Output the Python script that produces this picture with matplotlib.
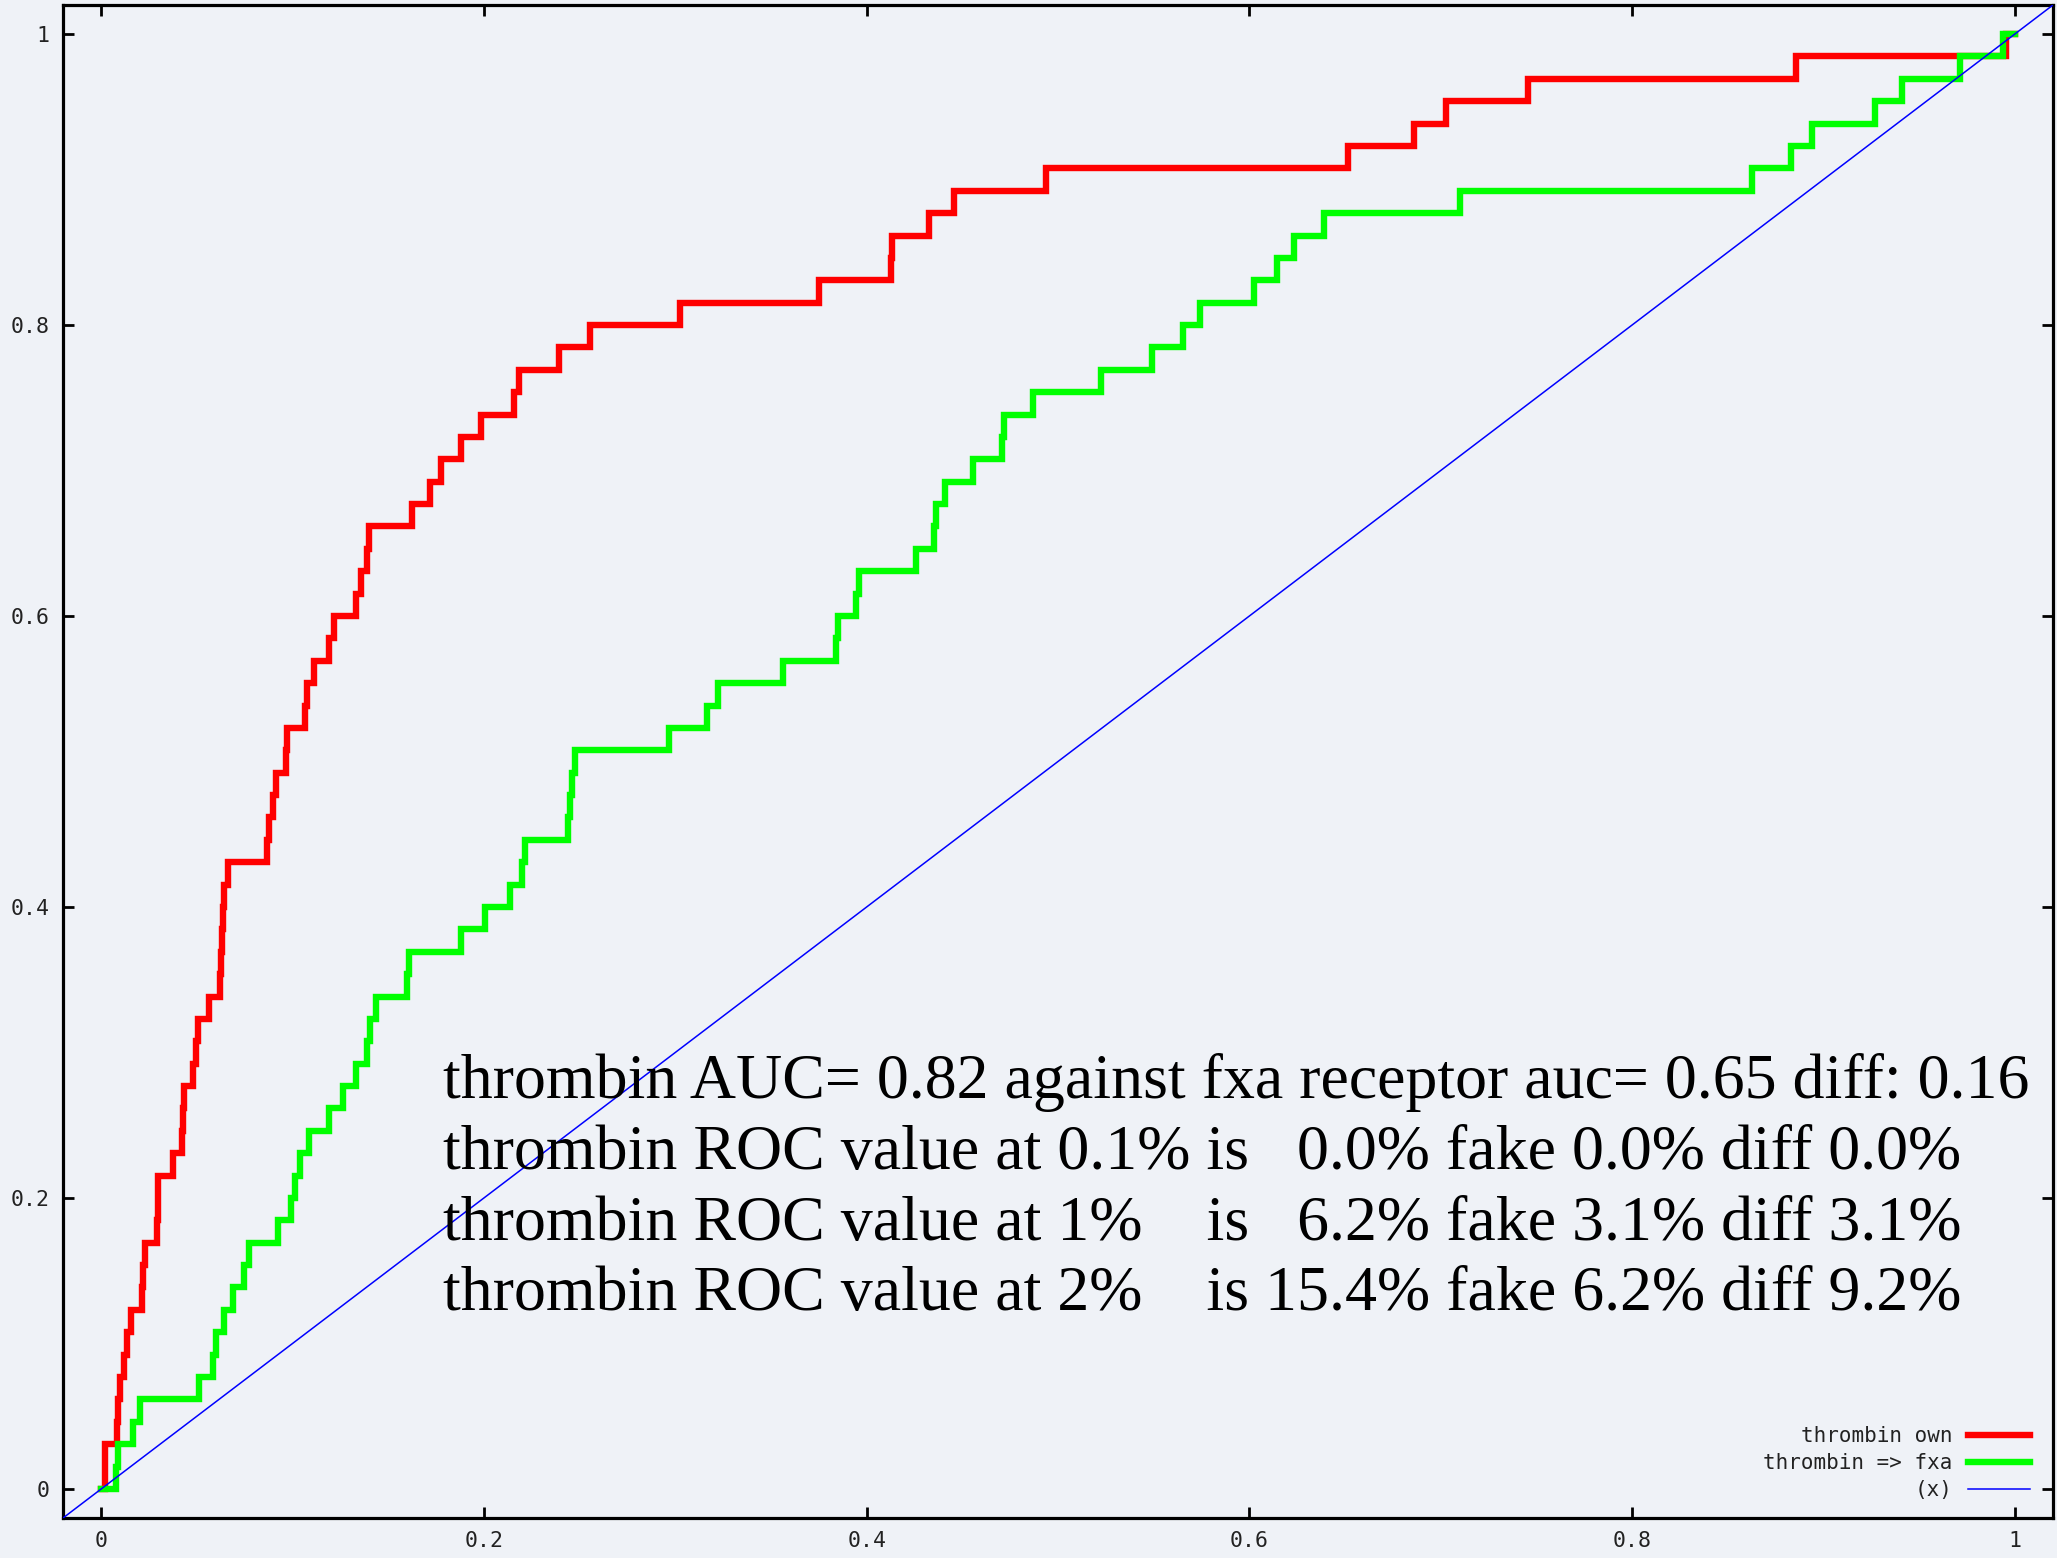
import numpy as np
import matplotlib
matplotlib.use("Agg")
import matplotlib.pyplot as plt

# ---------------- data ----------------
N_POS = 65  # number of actives -> TPR steps of 1/65

red_fpr = [0.0000, 0.0020, 0.0083, 0.0090, 0.0100, 0.0119, 0.0135, 0.0154, 0.0212, 0.0220,
           0.0228, 0.0289, 0.0296, 0.0299, 0.0375, 0.0422, 0.0426, 0.0430, 0.0481, 0.0495,
           0.0505, 0.0562, 0.0620, 0.0626, 0.0632, 0.0638, 0.0644, 0.0662, 0.0865, 0.0877,
           0.0895, 0.0912, 0.0965, 0.0970, 0.1063, 0.1075, 0.1110, 0.1191, 0.1215, 0.1331,
           0.1355, 0.1390, 0.1401, 0.1623, 0.1716, 0.1775, 0.1880, 0.1984, 0.2155, 0.2183,
           0.2392, 0.2556, 0.3022, 0.3753, 0.4125, 0.4135, 0.4324, 0.4457, 0.4935, 0.6514,
           0.6860, 0.7026, 0.7455, 0.8855, 0.9953, 1.0000]
red_hits = [0, 2, 3, 4, 5, 6, 7, 8, 9, 10,
            11, 12, 13, 14, 15, 16, 17, 18, 19, 20,
            21, 22, 23, 24, 25, 26, 27, 28, 29, 30,
            31, 32, 33, 34, 35, 36, 37, 38, 39, 40,
            41, 42, 43, 44, 45, 46, 47, 48, 49, 50,
            51, 52, 53, 54, 55, 56, 57, 58, 59, 60,
            61, 62, 63, 64, 65, 65]

green_fpr = [0.0000, 0.0078, 0.0088, 0.0167, 0.0205, 0.0510, 0.0585, 0.0600, 0.0643, 0.0690,
             0.0748, 0.0770, 0.0923, 0.0993, 0.1010, 0.1040, 0.1086, 0.1192, 0.1261, 0.1331,
             0.1390, 0.1405, 0.1437, 0.1600, 0.1610, 0.1880, 0.2008, 0.2136, 0.2197, 0.2215,
             0.2441, 0.2450, 0.2460, 0.2478, 0.2966, 0.3164, 0.3223, 0.3561, 0.3840, 0.3850,
             0.3946, 0.3960, 0.4260, 0.4354, 0.4365, 0.4412, 0.4555, 0.4709, 0.4720, 0.4867,
             0.5226, 0.5491, 0.5651, 0.5744, 0.6022, 0.6142, 0.6235, 0.6390, 0.7102, 0.8628,
             0.8830, 0.8943, 0.9270, 0.9410, 0.9713, 0.9940, 1.0000]
green_hits = [0, 1, 2, 3, 4, 5, 6, 7, 8, 9,
              10, 11, 12, 13, 14, 15, 16, 17, 18, 19,
              20, 21, 22, 23, 24, 25, 26, 27, 28, 29,
              30, 31, 32, 33, 34, 35, 36, 37, 38, 39,
              40, 41, 42, 43, 44, 45, 46, 47, 48, 49,
              50, 51, 52, 53, 54, 55, 56, 57, 58, 59,
              60, 61, 62, 63, 64, 65, 65]

series_labels = ["thrombin own", "thrombin => fxa", "(x)"]
tick_values = [0, 0.2, 0.4, 0.6, 0.8, 1]
tick_labels = ["0", "0.2", "0.4", "0.6", "0.8", "1"]

annotation_lines = [
    "thrombin AUC= 0.82 against fxa receptor auc= 0.65 diff: 0.16",
    "thrombin ROC value at 0.1% is   0.0% fake 0.0% diff 0.0%",
    "thrombin ROC value at 1%    is   6.2% fake 3.1% diff 3.1%",
    "thrombin ROC value at 2%    is 15.4% fake 6.2% diff 9.2%",
]

# ---------------- figure ----------------
BG = "#eff2f7"
W, H = 2057, 1558
fig = plt.figure(figsize=(W / 100, H / 100), dpi=100, facecolor=BG)
ax = fig.add_axes([63 / W, 40 / H, 1990 / W, 1513 / H])
ax.set_facecolor(BG)

XLIM = (-0.02, 1.02)
YLIM = (-0.02, 1.02)

red_tpr = np.array(red_hits) / N_POS
green_tpr = np.array(green_hits) / N_POS

ax.plot(red_fpr, red_tpr, drawstyle="steps-post", color="#ff0000", lw=4.6,
        solid_joinstyle="miter", label=series_labels[0], zorder=2)
ax.plot(green_fpr, green_tpr, drawstyle="steps-post", color="#00ff00", lw=4.6,
        solid_joinstyle="miter", label=series_labels[1], zorder=3)
diag_x = np.array(XLIM)
ax.plot(diag_x, diag_x, color="#0000ff", lw=1.1, label=series_labels[2], zorder=4)

ax.set_xlim(*XLIM)
ax.set_ylim(*YLIM)

mono = "DejaVu Sans Mono"
FS_TICK = 15.5
FS_LEG = 15
ax.set_xticks(tick_values)
ax.set_xticklabels(tick_labels, family=mono, fontsize=FS_TICK)
ax.set_yticks(tick_values)
ax.set_yticklabels(tick_labels, family=mono, fontsize=FS_TICK)
ax.tick_params(axis="both", direction="in", length=8, width=2.0, color="black",
               top=True, right=True, labelcolor="#222222")
ax.tick_params(axis="x", pad=9.5)
ax.tick_params(axis="y", pad=9.5)
for sp in ax.spines.values():
    sp.set_linewidth(2.3)
    sp.set_color("black")

# annotation block
ys = [0.2685, 0.2200, 0.1713, 0.1228]
for txt, yy in zip(annotation_lines, ys):
    ax.text(0.1787, yy, txt, family="Liberation Serif", fontsize=46,
            va="baseline", ha="left", color="black", zorder=5)

leg = ax.legend(loc="lower right", bbox_to_anchor=(0.9884, 0.012),
                markerfirst=False, frameon=False,
                prop={"family": mono, "size": FS_LEG},
                handlelength=2.98, handletextpad=0.72, labelspacing=0.33,
                borderpad=0, borderaxespad=0)
for t in leg.get_texts():
    t.set_color("#222222")

fig.savefig("out.png", dpi=100, facecolor=BG)
